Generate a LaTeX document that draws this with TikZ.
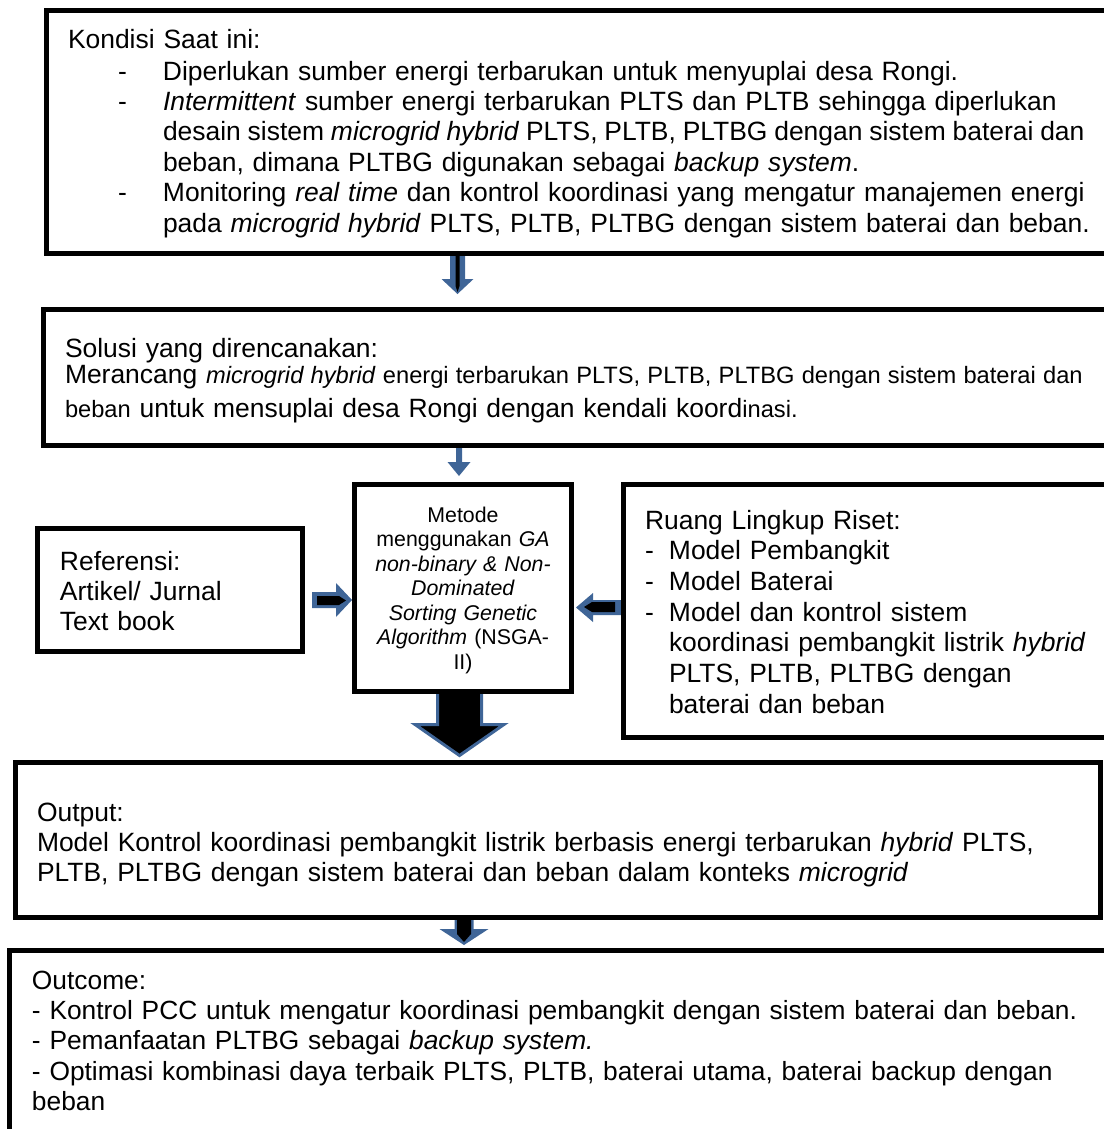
\documentclass[tikz,border=0pt]{standalone}
\usepackage{fontspec}
\setmainfont{Liberation Sans}
\usetikzlibrary{fit,calc,backgrounds}
\definecolor{ablue}{RGB}{63,101,151}
\hyphenpenalty=10000
\exhyphenpenalty=10000
\newcommand{\blockdown}[6]{\path[#6] let \p1=(#1), \p2=(#2) in (\x1-#3,\y1) -- (\x1+#3,\y1) -- (\x1+#3,\y2+#5) -- (\x1+#4,\y2+#5) -- (\x1,\y2) -- (\x1-#4,\y2+#5) -- (\x1-#3,\y2+#5) -- cycle;}
\newcommand{\blockright}[6]{\path[#6] let \p1=(#1), \p2=(#2) in (\x1,\y1+#3) -- (\x2-#5,\y1+#3) -- (\x2-#5,\y1+#4) -- (\x2,\y1) -- (\x2-#5,\y1-#4) -- (\x2-#5,\y1-#3) -- (\x1,\y1-#3) -- cycle;}
\newcommand{\blockleft}[6]{\path[#6] let \p1=(#1), \p2=(#2) in (\x1,\y1+#3) -- (\x2+#5,\y1+#3) -- (\x2+#5,\y1+#4) -- (\x2,\y1) -- (\x2+#5,\y1-#4) -- (\x2+#5,\y1-#3) -- (\x1,\y1-#3) -- cycle;}
\newcommand{\dashitem}[2]{\hangindent=#2\hangafter=1\noindent\makebox[#2][l]{\hspace{#1}-}\ignorespaces}
\newcommand{\sm}{\fontsize{10.65}{15.3}\selectfont}
\tikzset{
  frame/.style={draw=black, line width=2.25pt, inner sep=0pt, outer sep=0pt},
  txt/.style={inner sep=0pt, outer sep=0pt, font=\fontsize{11.9}{13.5}\selectfont},
  bluefill/.style={fill=ablue},
  blackfill/.style={fill=black},
  bigarrow/.style={fill=black, draw=ablue, line width=1.35pt, line join=miter},
}
\begin{document}
\begin{tikzpicture}[x=0.45pt, y=-0.45pt]
\useasboundingbox (0,0) rectangle (1104,1129);
% frames
\node[frame, fit={(46.5,10.5) (1130,253.5)}] (top) {};
\node[frame, fit={(43,309.5) (1130,445.5)}] (solusi) {};
\node[frame, fit={(37.5,528.5) (302,651.5)}] (ref) {};
\node[frame, fit={(354.5,484) (571.5,691)}] (metode) {};
\node[frame, fit={(623,484) (1130,737)}] (ruang) {};
\node[frame, fit={(15,762.5) (1100.5,917.5)}] (output) {};
\node[frame, fit={(9,950.5) (1130,1160)}] (outcome) {};
% texts
\node[txt, font=\fontsize{11.9}{13.68}\selectfont, text width=462pt, anchor=base west] (toptxt) at (68,48) {%
Kondisi Saat ini:\par\vspace{0.72pt}%
\dashitem{22.5pt}{42.75pt}Diperlukan sumber energi terbarukan untuk menyuplai desa Rongi.\par
\dashitem{22.5pt}{42.75pt}\textit{Intermittent} sumber energi terbarukan PLTS dan PLTB sehingga diperlukan\linebreak {\spaceskip=0.2em plus 0.3em minus 0.05em desain sistem \textit{microgrid hybrid} PLTS, PLTB, PLTBG dengan sistem baterai dan}\linebreak beban, dimana PLTBG digunakan sebagai \textit{backup system}.\par
\dashitem{22.5pt}{42.75pt}Monitoring \textit{real time} dan kontrol koordinasi yang mengatur manajemen energi\linebreak pada \textit{microgrid hybrid} PLTS, PLTB, PLTBG dengan sistem baterai dan beban.\par};
\node[txt, text width=463pt, anchor=base west] (soltxt) at (65,357) {%
Solusi yang direncanakan:\par\vspace{-3.6pt}%
\fontsize{11.9}{15.3}\selectfont Merancang {\sm\spaceskip=0.22em plus 0.4em minus 0.05em \textit{microgrid hybrid} energi terbarukan PLTS, PLTB, PLTBG dengan sistem baterai dan}\linebreak {\sm beban} untuk mensuplai desa Rongi dengan kendali koord{\sm inasi.}\par};
\node[txt, text width=110pt, align=left, anchor=base west] (reftxt) at (60,570) {Referensi:\\Artikel/ Jurnal\\Text book};
\node[txt, font=\fontsize{9.6}{11.03}\selectfont, text width=100pt, align=center, anchor=base] (mettxt) at (463,522) {Metode\\menggunakan \textit{GA}\\\textit{non-binary \& Non-}\\\textit{Dominated}\\\textit{Sorting Genetic}\\\textit{Algorithm} (NSGA-\\II)};
\node[txt, font=\fontsize{11.9}{13.8}\selectfont, text width=204.75pt, anchor=base west] (ruangtxt) at (645,529) {\raggedright
Ruang Lingkup Riset:\par
\dashitem{0pt}{10.8pt}Model Pembangkit\par
\dashitem{0pt}{10.8pt}Model Baterai\par
\dashitem{0pt}{10.8pt}Model dan kontrol sistem\newline koordinasi pembangkit listrik \textit{hybrid}\newline PLTS, PLTB, PLTBG dengan\newline baterai dan beban\par};
\node[txt, text width=470pt, anchor=base west] (outtxt) at (37,821) {%
Output:\par
Model Kontrol koordinasi pembangkit listrik berbasis energi terbarukan \textit{hybrid} PLTS,\linebreak PLTB, PLTBG dengan sistem baterai dan beban dalam konteks \textit{microgrid}\par};
\node[txt, font=\fontsize{11.85}{13.72}\selectfont, text width=476pt, anchor=base west] (outctxt) at (32,989) {%
Outcome:\par
- Kontrol PCC untuk mengatur koordinasi pembangkit dengan sistem baterai dan beban.\par
- Pemanfaatan PLTBG sebagai \textit{backup system.}\par
- Optimasi kombinasi daya terbaik PLTS, PLTB, baterai utama, baterai backup dengan\linebreak beban\par};
% block arrows
\begin{scope}[on background layer]
  % top -> solusi
  \coordinate (a1x) at (457.5,0);
  \coordinate (a1s) at (a1x |- top.south);
  \coordinate (a1e) at (457.5,294);
  \coordinate (a1i) at (457.5,292);
  \blockdown{a1s}{a1e}{3.375pt}{7.2pt}{6.75pt}{bluefill}
  \blockdown{a1s}{a1i}{0.9pt}{0.9pt}{2.7pt}{blackfill}
  % solusi -> metode
  \coordinate (a2x) at (459,0);
  \coordinate (a2s) at (a2x |- solusi.south);
  \coordinate (a2e) at (459,476);
  \blockdown{a2s}{a2e}{1.35pt}{5.175pt}{6.3pt}{bluefill}
  % ref -> metode
  \coordinate (a3s) at (312,600);
  \coordinate (a3e) at (352,600);
  \coordinate (a3i) at (317,600.5);
  \coordinate (a3j) at (346,600.5);
  \blockright{a3s}{a3e}{3.6pt}{7.65pt}{7.2pt}{bluefill}
  \blockright{a3i}{a3j}{2.025pt}{2.025pt}{3.15pt}{blackfill}
  % ruang -> metode
  \coordinate (a5s) at (621,607.5);
  \coordinate (a5e) at (576,607.5);
  \coordinate (a5i) at (615,607);
  \coordinate (a5j) at (584,607);
  \blockleft{a5s}{a5e}{3.375pt}{6.525pt}{7.65pt}{bluefill}
  \blockleft{a5i}{a5j}{2.25pt}{2.25pt}{3.6pt}{blackfill}
  % metode -> output
  \coordinate (a4x) at (459.5,0);
  \coordinate (a4s) at (a4x |- metode.south);
  \coordinate (a4e) at (459.5,755.5);
  \blockdown{a4s}{a4e}{9.9pt}{20pt}{13.95pt}{bigarrow}
  % output -> outcome
  \coordinate (a6x) at (464,0);
  \coordinate (a6s) at (a6x |- output.south);
  \coordinate (a6e) at (464,945);
  \coordinate (a6i) at (464,942);
  \blockdown{a6s}{a6e}{4.275pt}{11.025pt}{7.2pt}{bluefill}
  \blockdown{a6s}{a6i}{3.15pt}{3.15pt}{3.6pt}{blackfill}
\end{scope}
\end{tikzpicture}
\end{document}
